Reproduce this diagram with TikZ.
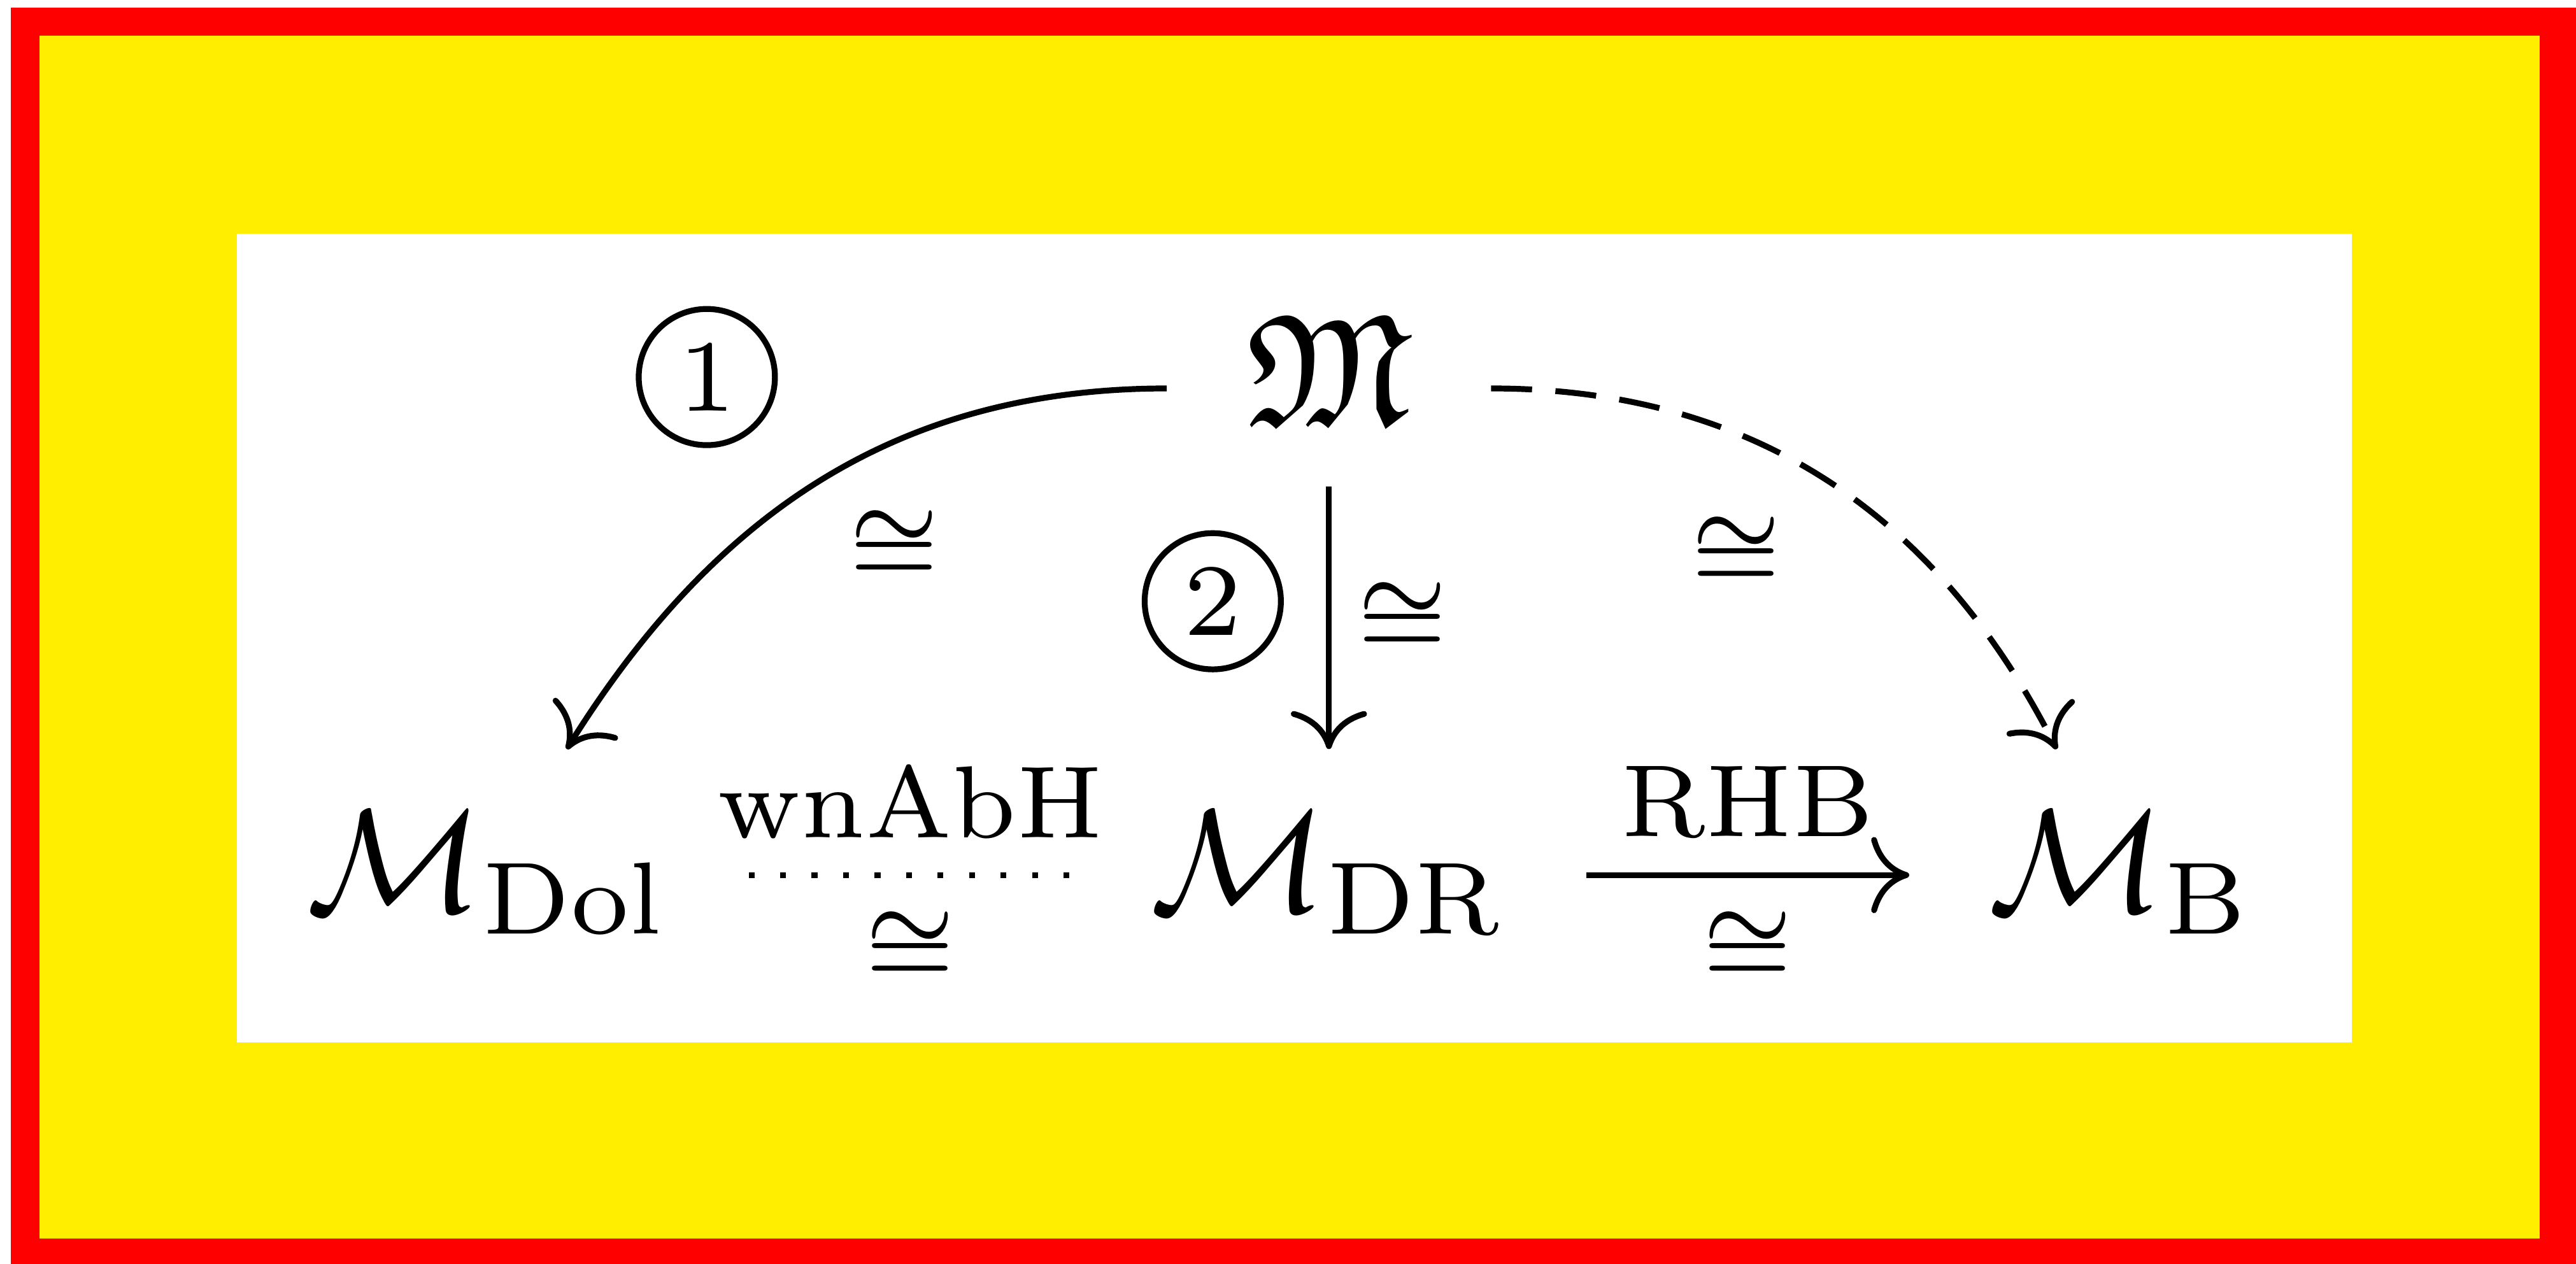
\documentclass[tikz,border=0pt]{standalone}
\usepackage{amsmath,amssymb}
\usepackage{tikz}
\usetikzlibrary{arrows.meta, positioning}
\definecolor{corMoldura}{RGB}{255,0,0}
\definecolor{corFundo}{RGB}{255,238,0}

\begin{document}
\begin{tikzpicture}[
    obj/.style={inner xsep=5.2pt, inner ysep=4pt, text height=6.9pt, text depth=1.9pt},
    lbl/.style={font=\scriptsize, inner sep=2.3pt},
    circnum/.style={draw, circle, minimum size=9.3pt, inner sep=0pt, font=\scriptsize},
    seta/.style={-{Computer Modern Rightarrow[length=2.6pt, width=5.2pt]}},
    tracejado/.style={dash pattern=on 2.8pt off 1.6pt},
    pontilhado/.style={dash pattern=on 0.4pt off 1.75pt},
    node distance=0.63cm and 0.775cm
]
% moldura
\fill[corMoldura] (0.026,-0.018) rectangle (6.181,-3.033);
\fill[corFundo] (0.095,-0.086) rectangle (6.094,-2.972);
\fill[white] (0.568,-0.561) rectangle (5.643,-2.502);
\useasboundingbox (0,0) rectangle (6.181,-3.033);

\node[obj] (dol) at (1.171,-2.100) {$\mathcal{M}_{\mathrm{Dol}}$};
\node[obj, right=of dol] (dr) {$\mathcal{M}_{\mathrm{DR}}$};
\node[obj, right=of dr] (b) {$\mathcal{M}_{\mathrm{B}}$};
\node[obj, font=\fontsize{10.8}{13}\selectfont, text height=5pt, text depth=0pt, above=of dr] (frak) {$\mathfrak{M}$};

\draw[seta] (frak) to[out=180, in=58] (dol);
\draw[seta, tracejado] (frak) to[out=0, in=117] (b);
\draw[seta] (frak) -- node[lbl, right, xshift=-0.6pt] {$\cong$} (dr);
\draw[seta] (dr) -- node[lbl, above] {RHB} node[lbl, below] {$\cong$} (b);
\draw[pontilhado] (dol) -- node[lbl, above] {wnAbH} node[lbl, below] {$\cong$} (dr);

\node[circnum] (um) at (1.696,-0.905) {1};
\node[circnum] (dois) at (2.910,-1.443) {2};
\node[lbl] (congA) at (2.146,-1.311) {$\cong$};
\node[lbl] (congB) at (4.166,-1.326) {$\cong$};
\end{tikzpicture}
\end{document}
